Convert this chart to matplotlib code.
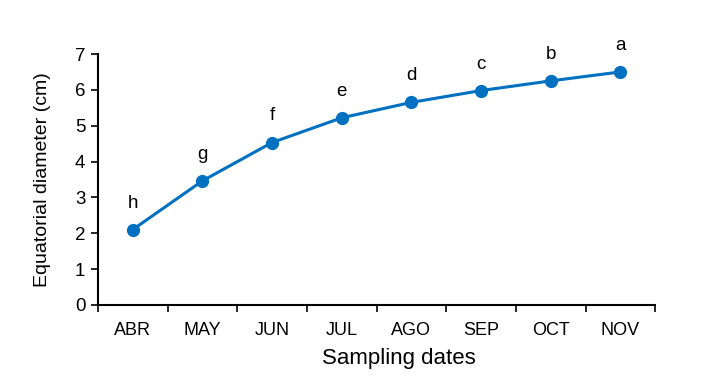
import matplotlib
matplotlib.use("Agg")
import matplotlib.pyplot as plt

months = ["ABR", "MAY", "JUN", "JUL", "AGO", "SEP", "OCT", "NOV"]
diameter = [2.1, 3.46, 4.53, 5.22, 5.65, 5.98, 6.25, 6.5]
letters = ["h", "g", "f", "e", "d", "c", "b", "a"]

plt.rcParams['font.family'] = ['Liberation Sans', 'DejaVu Sans']

fig = plt.figure(figsize=(7.2, 3.83), dpi=100)
ax = fig.add_axes([0.136, 0.204, 0.774, 0.655])

x = list(range(len(months)))
ax.plot(x, diameter, color="#0070C0", lw=2.2, marker="o", ms=8.5, zorder=3)
for xi, yi, lab in zip(x, diameter, letters):
    ax.annotate(lab, (xi, yi), xytext=(0, 13), textcoords="offset points",
                ha="center", va="bottom", fontsize=13.5, color="black")

ax.set_xlim(-0.5, len(months) - 0.5)
ax.set_ylim(0, 7)
ax.set_yticks(range(0, 8))
ax.set_xticks(x)
ax.set_xticklabels(months)
ax.set_xticks([i - 0.5 for i in range(len(months) + 1)], minor=True)
ax.tick_params(axis="x", which="major", length=0, pad=12, labelsize=13)
ax.tick_params(axis="x", which="minor", length=5, width=1.2, direction="out")
ax.tick_params(axis="y", length=5, width=1.2, direction="out", labelsize=13.5, pad=4)

for s in ["top", "right"]:
    ax.spines[s].set_visible(False)
for s in ["left", "bottom"]:
    ax.spines[s].set_linewidth(1.5)

ax.set_xlabel("Sampling dates", fontsize=16, labelpad=7, x=0.54)
ax.set_ylabel("Equatorial diameter (cm)", fontsize=14, labelpad=17)

fig.savefig("out.png", dpi=100)
